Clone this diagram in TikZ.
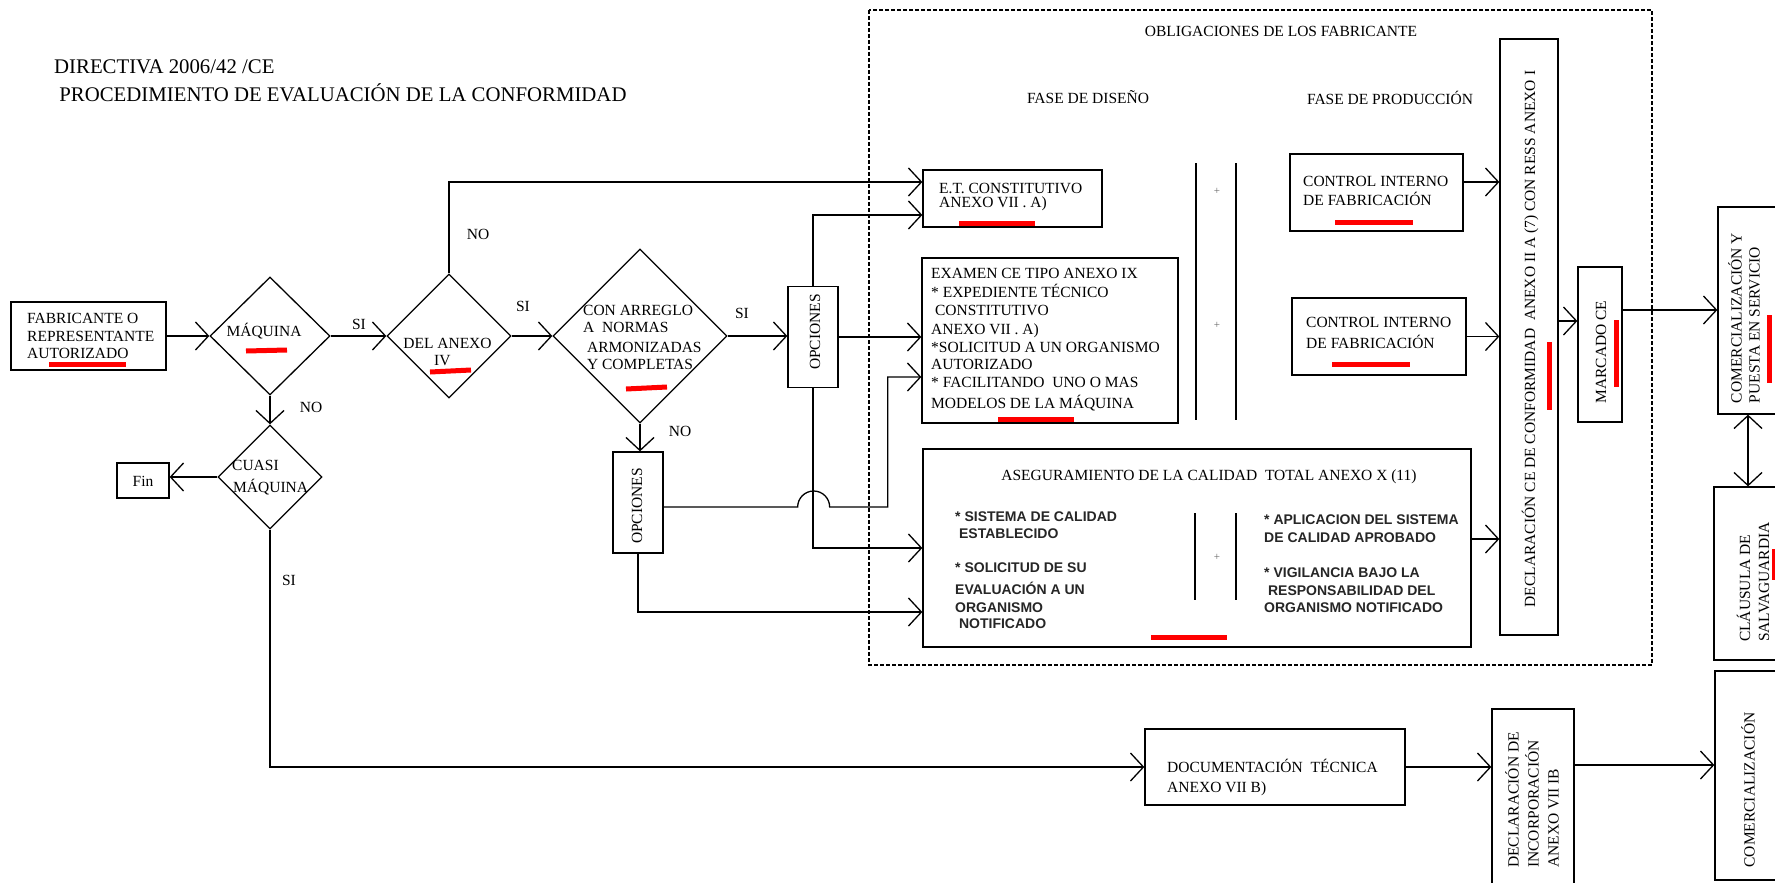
\documentclass[tikz,border=0pt]{standalone}
\usepackage{fontspec}
\setmainfont{Liberation Serif}
\newfontfamily\arialf{Liberation Sans}
\usetikzlibrary{arrows.meta,shapes.geometric,calc}
\begin{document}
\begin{tikzpicture}[x=1pt,y=-1pt,
  arr/.style={line width=1.3pt,-{Straight Barb[length=13pt,width=28pt]}},
  darr/.style={line width=1.3pt,{Straight Barb[length=13pt,width=28pt]}-{Straight Barb[length=13pt,width=28pt]}},
  bx/.style={draw,line width=1.3pt,inner sep=0pt},
  dm/.style={draw,diamond,line width=1.3pt,inner sep=0pt},
  tx/.style={inner sep=0pt,text=black,font=\fontsize{15.5}{18}\selectfont},
  ts/.style={inner sep=0pt,text=black!85,font=\arialf\bfseries\fontsize{14}{17}\selectfont},
  redmark/.style={draw=red,line width=5pt},
  dashbox/.style={draw,line width=1.1pt,dash pattern=on 4pt off 2pt}
]
\fill[white] (0,0) rectangle (1775,883);
\useasboundingbox (0,0) rectangle (1775,883);

% title
\node[tx,anchor=base west,font=\fontsize{20.8}{24}\selectfont] (title1) at (54,74) {DIRECTIVA 2006/42 /CE};
\node[tx,anchor=base west,font=\fontsize{20.8}{24}\selectfont] (title2) at (54,101) {\ PROCEDIMIENTO DE EVALUACIÓN DE LA CONFORMIDAD};

% dashed frame
\draw[dashbox] (869,10) rectangle (1652,665);
\node[tx,anchor=base] (oblig) at (1281,37) {OBLIGACIONES DE LOS FABRICANTE};
\node[tx,anchor=base] (fdis) at (1088,103) {FASE DE DISEÑO};
\node[tx,anchor=base] (fpro) at (1390,104) {FASE DE PRODUCCIÓN};

% boxes
\node[bx,minimum width=155pt,minimum height=68pt] (FAB) at (88.5,336) {};
\node[bx,minimum width=52pt,minimum height=35pt] (FIN) at (143,480.5) {};
\node[bx,minimum width=50pt,minimum height=101pt] (OP1) at (813,337) {};
\node[bx,minimum width=50pt,minimum height=101pt] (OP2) at (638,502.5) {};
\node[bx,minimum width=179pt,minimum height=57pt] (ET) at (1012.5,198.5) {};
\node[bx,minimum width=256pt,minimum height=165pt] (EX) at (1050,340.5) {};
\node[bx,minimum width=548pt,minimum height=198pt] (AQ) at (1197,548) {};
\node[bx,minimum width=173pt,minimum height=77pt] (C1) at (1376.5,192.5) {};
\node[bx,minimum width=174pt,minimum height=77pt] (C2) at (1379,336.5) {};
\node[bx,minimum width=58pt,minimum height=596pt] (DECL) at (1529,337) {};
\node[bx,minimum width=44pt,minimum height=155pt] (MAR) at (1600,344.5) {};
\node[bx,minimum width=72pt,minimum height=207pt] (COMY) at (1754,310.5) {};
\node[bx,minimum width=76pt,minimum height=173pt] (CLA) at (1752,573.5) {};
\node[bx,minimum width=76pt,minimum height=209pt] (COM) at (1753,775.5) {};
\node[bx,minimum width=82pt,minimum height=186pt] (DINC) at (1533,802) {};
\node[bx,minimum width=260pt,minimum height=76pt] (DOC) at (1275,767) {};

% diamonds
\node[dm,minimum width=120pt,minimum height=118pt] (MAQ) at (270,336) {};
\node[dm,minimum width=124pt,minimum height=124pt] (DEL) at (449,336) {};
\node[dm,minimum width=104pt,minimum height=104pt] (CUA) at (270,477) {};
\node[dm,minimum width=174pt,minimum height=174pt] (CON) at (640,336) {};

% separators
\draw[line width=1.3pt] (1196,163) -- (1196,420) (1236,163) -- (1236,420);
\draw[line width=1.3pt] (1195,513) -- (1195,600) (1236,513) -- (1236,600);
\node[tx,font=\fontsize{11}{12}\selectfont,text=black!60] (plus1) at (1217,191) {+};
\node[tx,font=\fontsize{11}{12}\selectfont,text=black!60] (plus2) at (1217,325) {+};
\node[tx,font=\fontsize{11}{12}\selectfont,text=black!60] (plus3) at (1217,557) {+};

% texts
\foreach \yy/\lbl [count=\i] in {323/FABRICANTE O,341/REPRESENTANTE,358/AUTORIZADO}
  \node[tx,anchor=base west] (fabt\i) at (27,\yy) {\lbl};
\node[tx,anchor=base] (fint) at (143,486) {Fin};
\node[tx,anchor=base] (maqt) at (264,336) {MÁQUINA};
\node[tx,anchor=base] (delt1) at (447.5,348) {DEL ANEXO};
\node[tx,anchor=base west] (delt2) at (434,365) {IV};
\node[tx,anchor=base west] (cuat1) at (232,470) {CUASI};
\node[tx,anchor=base west] (cuat2) at (233,492) {MÁQUINA};
\foreach \yy/\lbl [count=\i] in {315/CON ARREGLO,332/A\ \ NORMAS,352/\ ARMONIZADAS,369/\ Y COMPLETAS}
  \node[tx,anchor=base west] (cont\i) at (583,\yy) {\lbl};
\node[tx,rotate=90] (op1t) at (815,332) {OPCIONES};
\node[tx,rotate=90] (op2t) at (637,506) {OPCIONES};
\foreach \yy/\lbl [count=\i] in {193/E.T. CONSTITUTIVO,207/ANEXO VII . A)}
  \node[tx,anchor=base west] (ett\i) at (939,\yy) {\lbl};
\foreach \yy/\lbl [count=\i] in {278/EXAMEN CE TIPO ANEXO IX,297/* EXPEDIENTE TÉCNICO,315/\ CONSTITUTIVO,334/ANEXO VII . A),352/*SOLICITUD A UN ORGANISMO,369/AUTORIZADO,387/* FACILITANDO\ \ UNO O MAS,408/MODELOS DE LA MÁQUINA}
  \node[tx,anchor=base west] (ext\i) at (931,\yy) {\lbl};
\foreach \yy/\lbl [count=\i] in {186/CONTROL INTERNO,205/DE FABRICACIÓN}
  \node[tx,anchor=base west] (c1t\i) at (1303,\yy) {\lbl};
\foreach \yy/\lbl [count=\i] in {327/CONTROL INTERNO,348/DE FABRICACIÓN}
  \node[tx,anchor=base west] (c2t\i) at (1306,\yy) {\lbl};
\node[tx,anchor=base] (aqt) at (1209,480) {ASEGURAMIENTO DE LA CALIDAD\ \ TOTAL ANEXO X (11)};
\foreach \yy/\lbl [count=\i] in {521/* SISTEMA DE CALIDAD,538/\ ESTABLECIDO,572/* SOLICITUD DE SU,594/EVALUACIÓN A UN,612/ORGANISMO,628/\ NOTIFICADO}
  \node[ts,anchor=base west] (aql\i) at (955,\yy) {\lbl};
\foreach \yy/\lbl [count=\i] in {524/* APLICACION DEL SISTEMA,542/DE CALIDAD APROBADO,577/* VIGILANCIA BAJO LA,595/\ RESPONSABILIDAD DEL,612/ORGANISMO NOTIFICADO}
  \node[ts,anchor=base west] (aqr\i) at (1264,\yy) {\lbl};
\node[tx,rotate=90] (declt) at (1530,339) {DECLARACIÓN CE DE CONFORMIDAD\ \ ANEXO II A (7) CON RESS ANEXO I};
\node[tx,rotate=90] (mart) at (1601,352) {MARCADO CE};
\node[tx,rotate=90,align=left] (comyt) at (1744,318) {COMERCIALIZACIÓN Y\\PUESTA EN SERVICIO};
\node[tx,rotate=90,align=left,font=\fontsize{15.5}{19}\selectfont] (clat) at (1753,582) {CLÁUSULA DE\\SALVAGUARDIA};
\node[tx,rotate=90] (comt) at (1748,790) {COMERCIALIZACIÓN};
\node[tx,rotate=90,align=left,font=\fontsize{15.5}{20}\selectfont] (dinct) at (1532,800) {DECLARACIÓN DE\\INCORPORACIÓN\\ANEXO VII IB};
\foreach \yy/\lbl [count=\i] in {772/DOCUMENTACIÓN\ \ TÉCNICA,792/ANEXO VII B)}
  \node[tx,anchor=base west] (doct\i) at (1167,\yy) {\lbl};

% edge labels
\node[tx] (si1) at (359,324) {SI};
\node[tx] (no1) at (311,407) {NO};
\node[tx] (no2) at (478,234) {NO};
\node[tx] (si2) at (523,306) {SI};
\node[tx] (si3) at (742,313) {SI};
\node[tx] (no3) at (680,431) {NO};
\node[tx] (si4) at (289,580) {SI};

% connectors
\draw[arr] (FAB.east) -- (MAQ.west);
\draw[arr] (MAQ.east) -- (DEL.west);
\draw[arr] (MAQ.south) -- (CUA.north);
\draw[arr] (CUA.west) -- (CUA.west -| FIN.east);
\draw[arr] (CUA.south) |- (DOC.west);
\draw[arr] (DEL.north) |- ([yshift=16.5pt]ET.west);
\draw[arr] (DEL.east) -- (CON.west);
\draw[arr] (CON.east) -- (CON.east -| OP1.west);
\draw[arr] (CON.south) -- (CON.south |- OP2.north);
\draw[arr] (OP1.north) |- ([yshift=-16.5pt]ET.west);
\draw[arr] (OP1.east) -- (OP1.east -| EX.west);
\draw[arr] (OP1.south) |- (AQ.west);
\draw[arr] ([yshift=-4.5pt]OP2.east) -- ++(134,0) arc[start angle=180,end angle=0,radius=16pt] -- ++(58,0) |- ([yshift=-36.5pt]EX.west);
\draw[arr] (OP2.south) |- ([yshift=-64pt]AQ.west);
\draw[arr] ([yshift=10.5pt]C1.east) -- ([yshift=10.5pt]C1.east -| DECL.west);
\draw[arr] (C2.east) -- (C2.east -| DECL.west);
\draw[arr] ([yshift=9pt]AQ.east) -- ([yshift=9pt]AQ.east -| DECL.west);
\draw[arr] ([yshift=16pt]DECL.east) -- ([yshift=16pt]DECL.east -| MAR.west);
\draw[arr] ([yshift=34.5pt]MAR.east) -- ([yshift=34.5pt]MAR.east -| COMY.west);
\draw[darr] ([xshift=-6pt]COMY.south) -- ([xshift=-6pt]COMY.south |- CLA.north);
\draw[arr] (DOC.east) -- (DOC.east -| DINC.west);
\draw[arr] ([yshift=2pt]DINC.east |- DOC.east) -- ([yshift=2pt]DOC.east -| COM.west);

% red marks
\draw[redmark] (49,364) -- (126,364);
\draw[redmark] (246,351) -- (287,350);
\draw[redmark] (430,372) -- (471,370);
\draw[redmark] (626,389) -- (667,387);
\draw[redmark] (959,223) -- (1035,223);
\draw[redmark] (998,419) -- (1074,419);
\draw[redmark] (1335,222) -- (1413,222);
\draw[redmark] (1332,364) -- (1410,364);
\draw[redmark] (1151,637) -- (1227,637);
\draw[redmark] (1549,342) -- (1549,410);
\draw[redmark] (1616,320) -- (1616,387);
\draw[redmark] (1769,315) -- (1769,383);
\draw[redmark] (1774,549) -- (1774,580);
\end{tikzpicture}
\end{document}
